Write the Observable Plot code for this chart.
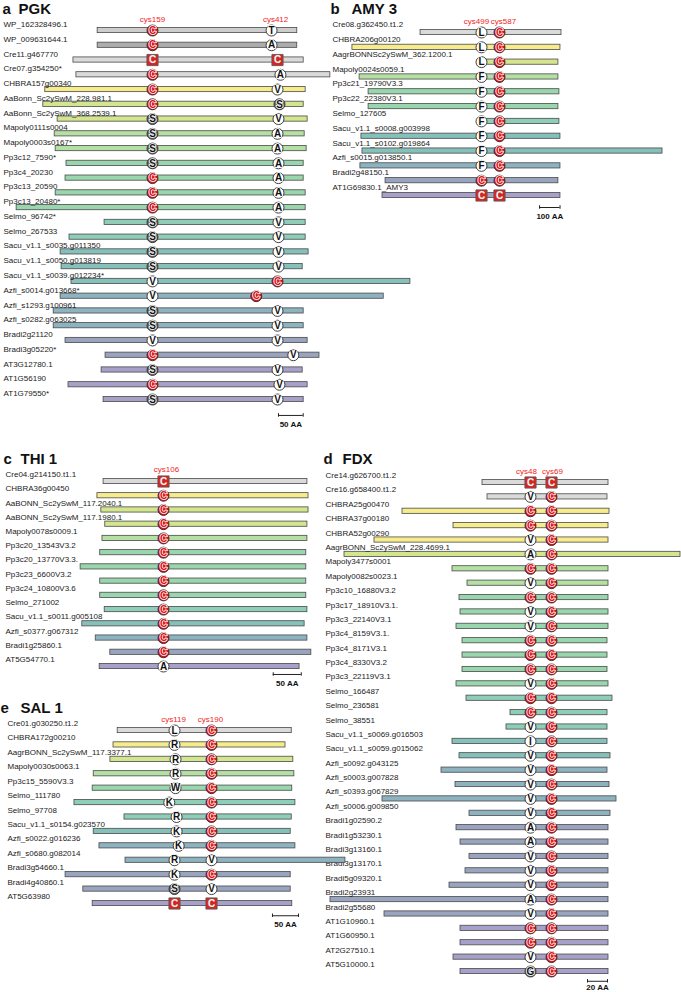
<!DOCTYPE html>
<html><head><meta charset="utf-8">
<script src="https://cdn.jsdelivr.net/npm/d3@7"></script>
<script src="https://cdn.jsdelivr.net/npm/@observablehq/plot@0.6"></script>
<style>
body{margin:0;background:#fff;}
#page{position:relative;width:681px;height:992px;overflow:hidden;background:#fff;}
#page svg{position:absolute;left:0;top:0;}
</style></head><body><div id="page"></div>
<script>
// ---------- PGK ----------
const pgkNames = ["WP_162328496.1","WP_009631644.1","Cre11.g467770","Cre07.g354250*","CHBRA157g00340","AaBonn_Sc2ySwM_228.981.1","AaBonn_Sc2ySwM_368.2539.1","Mapoly0111s0004","Mapoly0003s0167*","Pp3c12_7590*","Pp3c4_20230","Pp3c13_20590","Pp3c13_20480*","Selmo_96742*","Selmo_267533","Sacu_v1.1_s0035.g011350","Sacu_v1.1_s0050.g013819","Sacu_v1.1_s0039.g012234*","Azfi_s0014.g013668*","Azfi_s1293.g100961","Azfi_s0282.g063025","Bradi2g21120","Bradi3g05220*","AT3G12780.1","AT1G56190","AT1G79550*"];
const pgkGroup = ["cyanoA","cyanoB","chlamy","chlamy","chara","horn","horn","liver","liver","moss","moss","moss","moss","lyco","lyco","fernS","fernS","fernS","fernA","fernA","fernA","grass","grass","arab","arab","arab"];
const pgkStart = [48,48,-1,5,-58,-62,-33,-39,-37,-15,-17,-37,-116,62,-9,-27,-25,-5,-27,-41,-41,-17,64,56,-11,60];
const pgkEnd = [452,452,465,519,469,465,473,467,471,465,465,469,469,469,469,475,463,681,627,465,465,473,497,463,473,465];
const pgkRes1 = ["C","C","C","C","C","C","S","S","S","S","C","C","C","S","S","S","S","V","V","S","S","V","C","S","C","S"];
const pgkPos1 = [159,159,159,159,159,159,159,159,159,159,159,159,159,159,159,159,159,159,159,159,159,159,159,159,159,159];
const pgkRes2 = ["T","A","C","A","V","S","V","A","A","A","A","A","A","V","V","V","V","C","C","V","V","V","V","V","V","V"];
const pgkPos2 = [400,400,412,418,412,416,414,412,412,414,414,414,414,414,414,414,414,412,369,412,412,412,444,412,416,412];
const pgkBoxed = ["Cre11.g467770"];
const pgkSiteLabels = ["cys159","cys412"];

// ---------- AMY3 ----------
const amyNames = ["Cre08.g362450.t1.2","CHBRA206g00120","AagrBONNSc2ySwM_362.1200.1","Mapoly0024s0059.1","Pp3c21_19790V3.3","Pp3c22_22380V3.1","Selmo_127605","Sacu_v1.1_s0008.g003998","Sacu_v1.1_s0102.g019864","Azfi_s0015.g013850.1","Bradi2g48150.1","AT1G69830.1_AMY3"];
const amyGroup = ["chlamy","chara","horn","liver","moss","moss","lyco","fernS","fernS","fernA","grass","arab"];
const amyStart = [201,-132,505,-97,-53,-53,505,-88,-83,-93,30,15];
const amyEnd = [890,885,875,875,880,875,880,885,1384,885,875,885];
const amyRes1 = ["L","L","L","F","F","F","F","F","F","F","C","C"];
const amyPos1 = [499,499,499,499,499,499,499,499,499,499,499,499];
const amyRes2 = ["C","C","C","C","C","C","C","C","C","C","C","C"];
const amyPos2 = [587,587,587,587,587,587,587,587,587,587,587,587];
const amyBoxed = ["AT1G69830.1_AMY3"];
const amySiteLabels = ["cys499","cys587"];

// ---------- THI1 ----------
const thiNames = ["Cre04.g214150.t1.1","CHBRA36g00450","AaBONN_Sc2ySwM_117.2040.1","AaBONN_Sc2ySwM_117.1980.1","Mapoly0078s0009.1","Pp3c20_13543V3.2","Pp3c20_13770V3.3.","Pp3c23_6600V3.2","Pp3c24_10800V3.6","Selmo_271002","Sacu_v1.1_s0011.g005108","Azfi_s0377.g067312","Bradi1g25860.1","AT5G54770.1"];
const thiGroup = ["chlamy","chara","horn","horn","liver","moss","moss","moss","moss","lyco","fernS","fernA","grass","arab"];
const thiStart = [-1,-12,-5,2,-3,-7,-42,-7,-7,1,-39,-15,11,-8];
const thiEnd = [363,365,365,363,363,361,361,361,361,363,358,363,370,349];
const thiRes1 = ["C","C","C","C","C","C","C","C","C","C","C","C","C","A"];
const thiPos1 = [106,106,106,106,106,106,106,106,106,106,106,106,106,106];
const thiBoxed = ["Cre04.g214150.t1.1"];
const thiSiteLabels = ["cys106"];

// ---------- FDX ----------
const fdxNames = ["Cre14.g626700.t1.2","Cre16.g658400.t1.2","CHBRA25g00470","CHBRA37g00180","CHBRA52g00290","AagrBONN_Sc2ySwM_228.4699.1","Mapoly3477s0001","Mapoly0082s0023.1","Pp3c10_16880V3.2","Pp3c17_18910V3.1.","Pp3c3_22140V3.1","Pp3c4_8159V3.1.","Pp3c4_8171V3.1","Pp3c4_8330V3.2","Pp3c3_22119V3.1","Selmo_166487","Selmo_236581","Selmo_38551","Sacu_v1.1_s0069.g016503","Sacu_v1.1_s0059.g015062","Azfi_s0092.g043125","Azfi_s0003.g007828","Azfi_s0393.g067829","Azfi_s0006.g009850","Bradi1g02590.2","Bradi1g53230.1","Bradi3g13160.1","Bradi3g13170.1","Bradi5g09320.1","Bradi2g23931","Bradi2g55680","AT1G10960.1","AT1G60950.1","AT2G27510.1","AT5G10000.1"];
const fdxGroup = ["chlamy","chlamy","chara","chara","chara","horn","liver","liver","moss","moss","moss","moss","moss","moss","moss","lyco","lyco","lyco","fernS","fernS","fernA","fernA","fernA","fernA","grass","grass","grass","grass","grass","grass","grass","arab","arab","arab","arab"];
const fdxStart = [0,5,-80,-29,-108,-138,-30,-15,-23,-22,-26,-20,-20,-20,-26,-16,28,24,-30,-23,-41,-27,-100,-13,-26,-22,-13,-17,-33,-152,-98,-22,-22,-29,-22];
const fdxEnd = [126,125,127,126,126,198,126,126,126,126,126,125,125,125,126,130,125,125,125,128,125,127,134,128,126,126,126,126,126,126,126,126,126,126,126];
const fdxRes1 = ["C","V","C","C","V","A","C","V","C","V","V","C","C","C","V","C","C","V","I","V","V","V","V","V","A","A","V","V","V","A","V","C","C","V","G"];
const fdxPos1 = [48,48,48,48,48,48,48,48,48,48,48,48,48,48,48,48,48,48,48,48,48,48,48,48,48,48,48,48,48,48,48,48,48,48,48];
const fdxRes2 = ["C","C","C","C","C","C","C","C","C","C","C","C","C","C","C","C","C","C","C","C","C","C","C","C","C","C","C","C","C","C","C","C","C","C","C"];
const fdxPos2 = [69,69,69,69,69,69,69,69,69,69,69,69,69,69,69,69,69,69,69,69,69,69,69,69,69,69,69,69,69,69,69,69,69,69,69];
const fdxBoxed = ["Cre14.g626700.t1.2"];
const fdxSiteLabels = ["cys48","cys69"];

// ---------- SAL1 ----------
const salNames = ["Cre01.g030250.t1.2","CHBRA172g00210","AagrBONN_Sc2ySwM_117.3377.1","Mapoly0030s0063.1","Pp3c15_5590V3.3","Selmo_111780","Selmo_97708","Sacu_v1.1_s0154.g023570","Azfi_s0022.g016236","Azfi_s0680.g082014","Bradi3g54660.1","Bradi4g40860.1","AT5G63980"];
const salGroup = ["chlamy","chara","horn","liver","moss","lyco","lyco","fernS","fernA","fernA","grass","grass","arab"];
const salStart = [10,2,-4,-36,-38,-73,23,-36,-25,25,-90,-56,-38];
const salEnd = [344,332,347,349,345,351,344,342,351,447,342,342,345];
const salRes1 = ["L","R","R","R","W","K","R","K","K","R","K","S","C"];
const salPos1 = [119,119,121,121,121,109,123,123,127,119,119,119,119];
const salRes2 = ["C","C","C","C","C","C","C","C","C","V","C","V","C"];
const salPos2 = [190,190,190,190,190,190,190,190,190,190,190,190,190];
const salBoxed = ["AT5G63980"];
const salSiteLabels = ["cys119","cys190"];

// ---------- styles ----------
const FONT = "'Liberation Sans', Arial, Helvetica, sans-serif";
const palette = {
  cyanoA:"#cdcdcd", cyanoB:"#adadad", chlamy:"#dadada", chara:"#f6ec8c", horn:"#d4e58f",
  liver:"#b5e0a3", moss:"#99d6ad", lyco:"#8ecdb8", fernS:"#86c0bb", fernA:"#8db2c0",
  grass:"#99a4bf", arab:"#a7a1c9"
};
const RED = "#d8141c";

function buildPanel(c) {
  const n = c.names.length;
  const rows = c.names.map((name, i) => ({i, name, start: c.start[i], end: c.end[i], group: c.group[i]}));
  const res = [];
  c.names.forEach((name, i) => {
    c.sites.forEach(s => res.push({i, aa: s.res[i], pos: s.pos[i], boxed: c.boxed.includes(name)}));
  });
  const circ = res.filter(d => !d.boxed), box = res.filter(d => d.boxed);
  const marks = [
    Plot.rect(rows, {x1: "start", x2: "end", y1: "i", y2: "i", insetTop: -2.6, insetBottom: -2.6,
      fill: d => palette[d.group], stroke: "#4a4a4a", strokeWidth: 0.8}),
    Plot.text(rows, {y: "i", text: "name", frameAnchor: "left", dx: c.labelX, dy: c.labelDy,
      textAnchor: "start", fontSize: 8, fill: "#1a1a1a"}),
    Plot.dot(circ, {x: "pos", y: "i", r: 5.5,
      fill: d => d.aa === "C" ? RED : (d.aa === "S" || d.aa === "G") ? "#6a6a6a" : "#fff",
      stroke: "#2a2a2a", strokeWidth: 0.9}),
    Plot.dot(box, {x: "pos", y: "i", symbol: "square", r: 6.3, fill: "#e0201c", stroke: "#5a5a5a", strokeWidth: 0.9}),
    Plot.text(circ, {x: "pos", y: "i", text: "aa", fontSize: 10, fontWeight: "bold",
      fill: d => d.aa === "C" ? RED : "#111", stroke: "#fff", strokeWidth: 1.7}),
    Plot.text(box, {x: "pos", y: "i", text: "aa", fontSize: 10, fontWeight: "bold",
      fill: "#f2f2f2", stroke: "#777", strokeWidth: 0.5}),
    ...c.siteLabels.map((t, k) => Plot.text([{t, pos: c.sites[k].pos[0]}], {x: "pos", y: () => 0, text: "t",
      dx: c.siteDx[k], dy: c.siteDy, fontSize: 8, fill: "#f01c1c"})),
    Plot.ruleY([c.scaleBar], {x1: d => d.a, x2: d => d.b, y: d => d.row, stroke: "#222", strokeWidth: 1}),
    Plot.ruleX([c.scaleBar.a, c.scaleBar.b], {x: d => d, y1: () => c.scaleBar.row - 0.12, y2: () => c.scaleBar.row + 0.12, stroke: "#222", strokeWidth: 1}),
    Plot.text([c.scaleBar], {x: d => (d.a + d.b) / 2, y: d => d.row, text: d => d.label, dy: c.scaleBar.dy,
      fontSize: 8, fontWeight: "bold", fill: "#111"}),
    ...c.title.map(p => Plot.text([p.t], {frameAnchor: "top-left", dx: p.x, dy: c.titleY, lineAnchor: "bottom",
      textAnchor: "start", fontSize: 15, fontWeight: "bold", fill: "#111"}))
  ];
  return Plot.plot({
    width: 681, height: 992, margin: 0,
    style: {background: "transparent", fontFamily: FONT, overflow: "visible"},
    x: {domain: c.xDomain, range: c.xRange, axis: null},
    y: {domain: [0, n - 1], range: [c.yFirst, c.yLast], axis: null},
    color: {type: "identity"},
    marks
  });
}

const panels = [
  {names: pgkNames, group: pgkGroup, start: pgkStart, end: pgkEnd,
   sites: [{res: pgkRes1, pos: pgkPos1}, {res: pgkRes2, pos: pgkPos2}], boxed: pgkBoxed,
   siteLabels: pgkSiteLabels, siteDx: [0, 4], siteDy: -11,
   xDomain: [159, 412], xRange: [152, 277], yFirst: 30, yLast: 399, labelX: 3, labelDy: -6,
   scaleBar: {a: 414, b: 464, row: 26.08, label: "50 AA", dy: 8.5},
   title: [{t: "a", x: 2}, {t: "PGK", x: 18}], titleY: 13},
  {names: amyNames, group: amyGroup, start: amyStart, end: amyEnd,
   sites: [{res: amyRes1, pos: amyPos1}, {res: amyRes2, pos: amyPos2}], boxed: amyBoxed,
   siteLabels: amySiteLabels, siteDx: [-5, 4], siteDy: -11,
   xDomain: [499, 587], xRange: [481, 499], yFirst: 32, yLast: 195, labelX: 332, labelDy: -8,
   scaleBar: {a: 783, b: 883, row: 11.81, label: "100 AA", dy: 8.5},
   title: [{t: "b", x: 330}, {t: "AMY 3", x: 351}], titleY: 13},
  {names: thiNames, group: thiGroup, start: thiStart, end: thiEnd,
   sites: [{res: thiRes1, pos: thiPos1}], boxed: thiBoxed,
   siteLabels: thiSiteLabels, siteDx: [3], siteDy: -12,
   xDomain: [106, 156], xRange: [163, 191], yFirst: 481, yLast: 666, labelX: 5, labelDy: -7,
   scaleBar: {a: 302, b: 352, row: 13.56, label: "50 AA", dy: 8.5},
   title: [{t: "c", x: 3}, {t: "THI 1", x: 20}], titleY: 463},
  {names: fdxNames, group: fdxGroup, start: fdxStart, end: fdxEnd,
   sites: [{res: fdxRes1, pos: fdxPos1}, {res: fdxRes2, pos: fdxPos2}], boxed: fdxBoxed,
   siteLabels: fdxSiteLabels, siteDx: [-4, 1], siteDy: -11,
   xDomain: [48, 69], xRange: [530, 551], yFirst: 482, yLast: 971, labelX: 325, labelDy: -7,
   scaleBar: {a: 105, b: 125, row: 34.68, label: "20 AA", dy: 6.5},
   title: [{t: "d", x: 323}, {t: "FDX", x: 342}], titleY: 463},
  {names: salNames, group: salGroup, start: salStart, end: salEnd,
   sites: [{res: salRes1, pos: salPos1}, {res: salRes2, pos: salPos2}], boxed: salBoxed,
   siteLabels: salSiteLabels, siteDx: [-1, -1], siteDy: -11,
   xDomain: [119, 190], xRange: [174, 211], yFirst: 730, yLast: 903, labelX: 7, labelDy: -7,
   scaleBar: {a: 307, b: 357, row: 12.85, label: "50 AA", dy: 8.5},
   title: [{t: "e", x: 0}, {t: "SAL 1", x: 20}], titleY: 712}
];

const page = document.getElementById("page");
panels.forEach(c => page.appendChild(buildPanel(c)));
</script>
</body></html>
